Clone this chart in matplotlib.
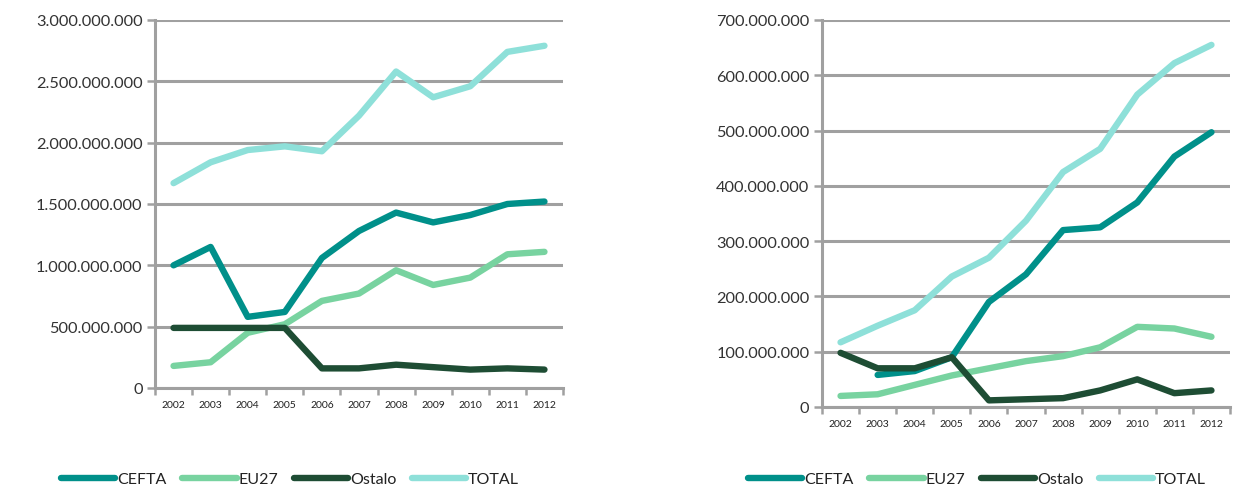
import numpy as np
import matplotlib
matplotlib.use("Agg")
import matplotlib.pyplot as plt
from matplotlib.ticker import FuncFormatter, FixedLocator

plt.rcParams['font.family'] = ['Lato', 'DejaVu Sans']

years = ['2002', '2003', '2004', '2005', '2006', '2007', '2008', '2009', '2010', '2011', '2012']

# Left chart
left_cefta = [1.00e9, 1.15e9, 0.58e9, 0.62e9, 1.06e9, 1.28e9, 1.43e9, 1.35e9, 1.41e9, 1.50e9, 1.52e9]
left_eu27 = [0.18e9, 0.21e9, 0.45e9, 0.52e9, 0.71e9, 0.77e9, 0.96e9, 0.84e9, 0.90e9, 1.09e9, 1.11e9]
left_ostalo = [0.49e9, 0.49e9, 0.49e9, 0.49e9, 0.16e9, 0.16e9, 0.19e9, 0.17e9, 0.15e9, 0.16e9, 0.15e9]
left_total = [1.67e9, 1.84e9, 1.94e9, 1.97e9, 1.93e9, 2.22e9, 2.58e9, 2.37e9, 2.46e9, 2.74e9, 2.79e9]

# Right chart
right_cefta = [np.nan, 58e6, 65e6, 90e6, 190e6, 240e6, 320e6, 325e6, 370e6, 453e6, 497e6]
right_eu27 = [20e6, 23e6, 40e6, 57e6, 70e6, 83e6, 92e6, 108e6, 145e6, 142e6, 127e6]
right_ostalo = [98e6, 70e6, 70e6, 90e6, 12e6, 14e6, 16e6, 30e6, 50e6, 25e6, 30e6]
right_total = [117e6, 147e6, 175e6, 236e6, 270e6, 337e6, 425e6, 467e6, 565e6, 622e6, 655e6]

series_names = ['CEFTA', 'EU27', 'Ostalo', 'TOTAL']
colors = ['#00908A', '#78D3A0', '#1E4D34', '#8EE0D9']

W, H = 1252, 489
fig = plt.figure(figsize=(W / 100, H / 100), dpi=100)

def fmt(v, pos):
    if v == 0:
        return '0'
    return f'{int(v):,}'.replace(',', '.')

grid_col = '#A0A0A0'

def setup(ax, data, ymax, ystep):
    x = np.arange(len(years))
    handles = []
    for d, c, n in zip(data, colors, series_names):
        h, = ax.plot(x, d, color=c, lw=4.6, solid_capstyle='round', solid_joinstyle='round', label=n)
        handles.append(h)
    ax.set_xlim(-0.5, len(years) - 0.5)
    ax.set_ylim(0, ymax)
    ax.set_yticks(np.arange(0, ymax + 1, ystep))
    ax.yaxis.set_major_formatter(FuncFormatter(fmt))
    ax.set_xticks(x)
    ax.set_xticklabels(years, fontsize=7.5, color='#222222')
    ax.xaxis.set_minor_locator(FixedLocator(np.arange(-0.5, len(years), 1.0)))
    ax.tick_params(axis='x', which='major', length=0, pad=9)
    ax.tick_params(axis='x', which='minor', length=5, color=grid_col, width=1.8)
    ax.tick_params(axis='y', length=6, color=grid_col, width=1.8, labelsize=11.8, labelcolor='#333333', pad=3)
    ax.grid(axis='y', color=grid_col, lw=2.2)
    ax.set_axisbelow(True)
    for s in ['top', 'right']:
        ax.spines[s].set_visible(False)
    for s in ['left', 'bottom']:
        ax.spines[s].set_color(grid_col)
        ax.spines[s].set_linewidth(2.2)
    return handles

ax1 = fig.add_axes([155 / W, (H - 389) / H, 408 / W, 368 / H])
h1 = setup(ax1, [left_cefta, left_eu27, left_ostalo, left_total], 3.0e9, 0.5e9)

ax2 = fig.add_axes([822 / W, (H - 408) / H, 408 / W, 387 / H])
h2 = setup(ax2, [right_cefta, right_eu27, right_ostalo, right_total], 700e6, 100e6)

for hs, cx in [(h1, 290 / W), (h2, 977 / W)]:
    fig.legend(hs, series_names, loc='center', bbox_to_anchor=(cx, 1 - 480 / H), ncol=4,
               frameon=False, fontsize=11.5, handlelength=3.4, handletextpad=0.1,
               columnspacing=1.0, borderaxespad=0, labelcolor='#222222')

fig.savefig('out.png', dpi=100)
